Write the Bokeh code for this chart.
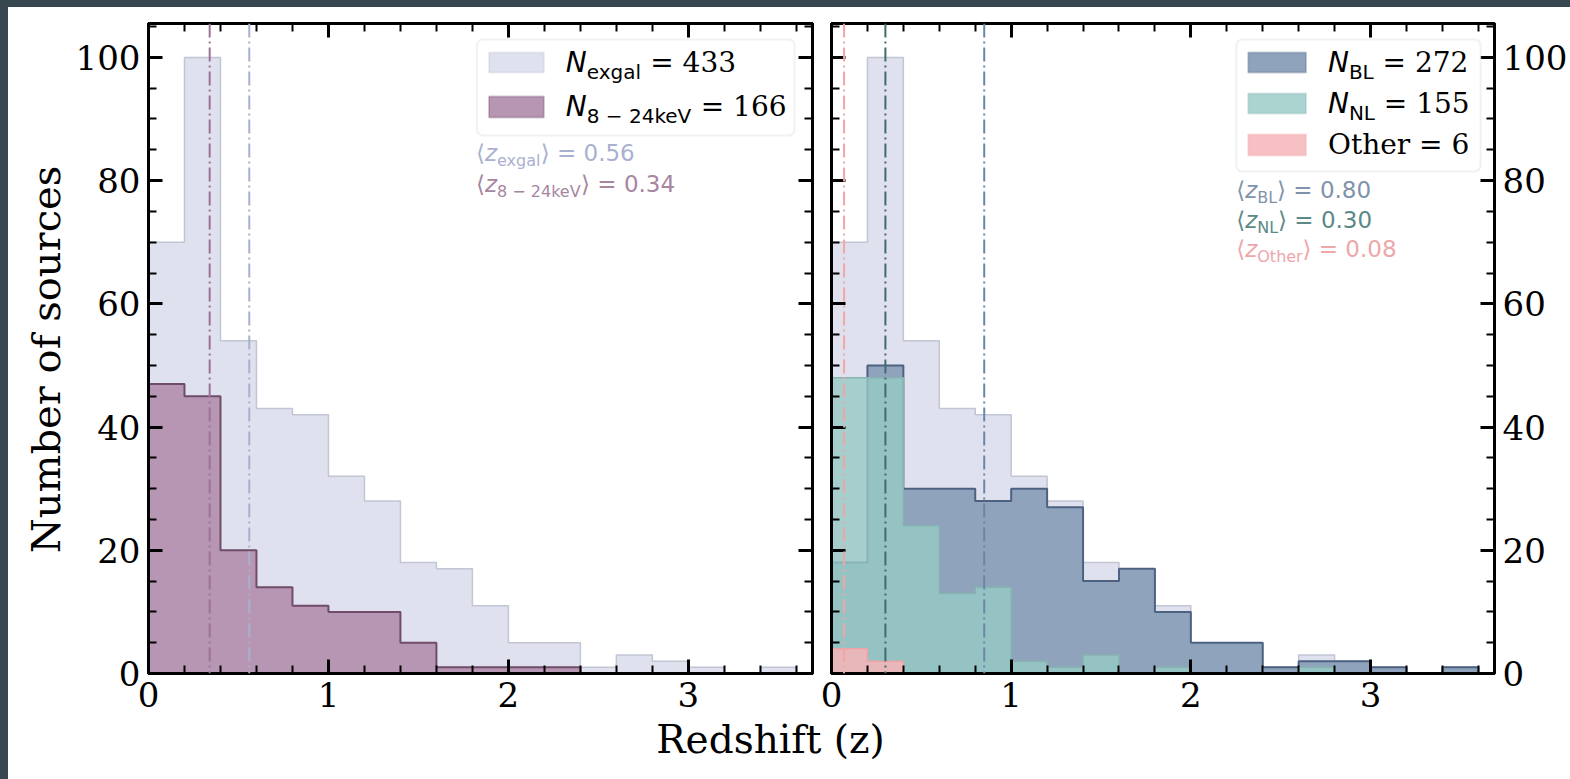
from bokeh.plotting import figure
from bokeh.models import (Range1d, LinearAxis, SingleIntervalTicker, Span, Label,
                          BoxAnnotation, Spacer, CustomJSTickFormatter)
from bokeh.layouts import row, column
from bokeh.embed import file_html
from bokeh.resources import INLINE
import math

# ---------------- data ----------------
BIN_EDGES = [0.0, 0.2, 0.4, 0.6, 0.8, 1.0, 1.2, 1.4, 1.6, 1.8, 2.0,
             2.2, 2.4, 2.6, 2.8, 3.0, 3.2, 3.4, 3.6]
N_EXGAL = [70, 100, 54, 43, 42, 32, 28, 18, 17, 11, 5, 5, 1, 3, 2, 1, 0, 1]
N_HARD  = [47, 45, 20, 14, 11, 10, 10, 5, 1, 1, 1, 1, 0, 0, 0, 0, 0, 0]
N_BL    = [18, 50, 30, 30, 28, 30, 27, 15, 17, 10, 5, 5, 1, 2, 2, 1, 0, 1]
N_NL    = [48, 48, 24, 13, 14, 2, 1, 3, 0, 1, 0, 0, 0, 1, 0, 0, 0, 0]
N_OTHER = [4, 2, 0, 0, 0, 0, 0, 0, 0, 0, 0, 0, 0, 0, 0, 0, 0, 0]

TOTALS = {"exgal": 433, "hard": 166, "BL": 272, "NL": 155, "Other": 6}
MEAN_TEXT = {"exgal": "0.56", "hard": "0.34", "BL": "0.80", "NL": "0.30", "Other": "0.08"}
MEAN_LINE = {"exgal": 0.56, "hard": 0.34, "BL": 0.85, "NL": 0.30, "Other": 0.07}

X_TICK_STEP = 1
Y_TICK_STEP = 20
X_END = 3.69
Y_END = 105.5

# ---------------- style ----------------
DARK = "#37474f"
SERIF = "DejaVu Serif"
SANS = "DejaVu Sans"
EXGAL_FILL, EXGAL_LINE = "#dfe1ee", "#c2c5d3"
HARD_FILL, HARD_LINE = "#b696b3", "#6f4c6a"
BL_FILL, BL_LINE = "#8fa3bd", "#4d6281"
NL_FILL, NL_LINE = "#96c9c4", "#86b4b0"
OTHER_FILL, OTHER_LINE = "#f6b5b7", "#eea3a7"
LINE_COL = {"exgal": "#a7b0cf", "hard": "#9b7295", "BL": "#6b87a8", "NL": "#3f6e6a", "Other": "#f2a5a7"}
TEXT_COL = {"exgal": "#aab0cf", "hard": "#a7869f", "BL": "#7f93ab", "NL": "#5b8a86", "Other": "#eda7a9"}

FRAME_W, FRAME_H = 665, 650
FIG_H = 710
TOP_BAR, LEFT_BAR = 7, 8
FRAME_TOP = TOP_BAR + 16
BASE_FIX = 0.34   # rendered 'alphabetic' sits this many ems lower than asked

LEG_SIZE, LEG_SUB = 28, 20
ANN_SIZE, ANN_SUB = 23, 16

SANS_W = {"N": .748, "e": .615, "x": .592, "g": .635, "a": .613, "l": .278, "k": .579,
          "V": .684, "B": .686, "L": .557, "z": .525, "O": .787, "t": .392, "h": .634,
          "r": .411, " ": .318, "−": .838, "=": .838, ".": .318, "⟨": .390, "⟩": .390}
SERIF_W = {" ": .318, "=": .838, ".": .318, "O": .787, "t": .402, "h": .644, "e": .592, "r": .478}


def text_width(s, font, size):
    table = SANS_W if font == SANS else SERIF_W
    return sum(table.get(ch, .636) for ch in s) * size


def step_polygon(edges, counts):
    xs, ys = [edges[0]], [0]
    for i, c in enumerate(counts):
        xs += [edges[i], edges[i + 1]]
        ys += [c, c]
    xs.append(edges[-1])
    ys.append(0)
    return xs, ys


def make_conv(frame_left):
    def conv(px, py):
        return ((px - frame_left) * X_END / FRAME_W,
                (FRAME_TOP + FRAME_H - py) * Y_END / FRAME_H)
    return conv


def add_axis(p, side, labelled):
    if side in ("below", "above"):
        ticker = SingleIntervalTicker(interval=X_TICK_STEP, num_minor_ticks=5)
    else:
        ticker = SingleIntervalTicker(interval=Y_TICK_STEP, num_minor_ticks=4)
    ax = LinearAxis(ticker=ticker)
    ax.axis_line_width = 3
    ax.axis_line_color = "black"
    ax.major_tick_in = 14
    ax.major_tick_out = 0
    ax.major_tick_line_width = 3
    ax.minor_tick_in = 8
    ax.minor_tick_out = 0
    ax.minor_tick_line_width = 2
    if labelled:
        ax.major_label_text_font = SERIF
        ax.major_label_text_font_size = "34px"
        ax.major_label_text_color = "black"
        ax.major_label_standoff = 8
    else:
        ax.formatter = CustomJSTickFormatter(code="return ''")
        ax.major_label_standoff = 0
        ax.major_label_text_font_size = "1px"
    p.add_layout(ax, side)


def make_panel(width, min_left, min_right, y_labels_side):
    p = figure(width=width, height=FIG_H, x_range=Range1d(0, X_END), y_range=Range1d(0, Y_END),
               output_backend="svg", toolbar_location=None, title=None,
               x_axis_location=None, y_axis_location=None,
               min_border_left=min_left, min_border_right=min_right,
               min_border_top=16, min_border_bottom=FIG_H - 16 - FRAME_H)
    p.grid.visible = False
    p.outline_line_color = "black"
    p.outline_line_width = 3
    p.background_fill_color = "white"
    p.border_fill_color = "white"
    add_axis(p, "below", True)
    add_axis(p, "above", False)
    add_axis(p, "left", y_labels_side == "left")
    add_axis(p, "right", y_labels_side == "right")
    return p


def hist(p, counts, fill, line, alpha=1.0, lw=2.0):
    xs, ys = step_polygon(BIN_EDGES, counts)
    p.patch(xs, ys, fill_color=fill, fill_alpha=alpha, line_color=line, line_width=lw)


def put_text(p, conv, x_px, base_px, pieces):
    for s, font, style, size, drop, color in pieces:
        if s.startswith(" "):
            x_px += text_width(" ", font, size)
            s = s[1:]
        x, y = conv(x_px, base_px + drop - BASE_FIX * size)
        p.add_layout(Label(x=x, y=y, text=s, text_font=font, text_font_style=style,
                           text_font_size=f"{size}px", text_color=color,
                           text_baseline="alphabetic", text_align="left"))
        x_px += text_width(s, font, size)


def legend_box(p, conv, x0, y0, x1, y1):
    l, t = conv(x0, y0)
    r, b = conv(x1, y1)
    p.add_layout(BoxAnnotation(left=l, right=r, top=t, bottom=b, fill_color="white", fill_alpha=0.9,
                               line_color="#d2d2d2", line_width=2, border_radius=6))


def legend_patch(p, conv, x0, y0, x1, y1, fill, line, alpha=1.0):
    l, t = conv(x0, y0)
    r, b = conv(x1, y1)
    p.add_layout(BoxAnnotation(left=l, right=r, top=t, bottom=b, fill_color=fill, fill_alpha=alpha,
                               line_color=line, line_width=2))


def vline(p, key):
    p.add_layout(Span(location=MEAN_LINE[key], dimension="height", line_color=LINE_COL[key],
                      line_width=2, line_dash="14 4 2 4"))


def legend_row(p, conv, x_px, base_px, sub, key):
    put_text(p, conv, x_px, base_px, [("N", SANS, "italic", LEG_SIZE, 0, "black"),
                                      (sub, SANS, "normal", LEG_SUB, 6, "black"),
                                      (f" = {TOTALS[key]}", SERIF, "normal", LEG_SIZE, 0, "black")])


def mean_text(p, conv, x_px, base_px, sub, key):
    c = TEXT_COL[key]
    put_text(p, conv, x_px, base_px, [
        ("⟨", SANS, "normal", ANN_SIZE, 0, c),
        ("z", SANS, "italic", ANN_SIZE, 0, c),
        (sub, SANS, "normal", ANN_SUB, 5, c),
        ("⟩", SANS, "normal", ANN_SIZE, 0, c),
        (" = " + MEAN_TEXT[key], SANS, "normal", ANN_SIZE, 0, c),
    ])


# ---------------- left panel ----------------
YLAB_W = 64
P1_W = 748
P2_W = 750
p1 = make_panel(P1_W, 75, P1_W - 75 - FRAME_W, "left")
hist(p1, N_EXGAL, EXGAL_FILL, EXGAL_LINE, 1.0, 1.5)
hist(p1, N_HARD, HARD_FILL, HARD_LINE, 1.0, 2.0)
vline(p1, "hard")
vline(p1, "exgal")
c1 = make_conv(LEFT_BAR + YLAB_W + 75)

legend_box(p1, c1, 476, 39, 794, 135)
legend_patch(p1, c1, 488, 52, 543, 72, EXGAL_FILL, EXGAL_LINE)
legend_patch(p1, c1, 488, 96, 543, 117, HARD_FILL, HARD_LINE)
legend_row(p1, c1, 565, 72, "exgal", "exgal")
legend_row(p1, c1, 565, 116, "8 − 24keV", "hard")
mean_text(p1, c1, 475, 160, "exgal", "exgal")
mean_text(p1, c1, 475, 191, "8 − 24keV", "hard")

# ---------------- right panel ----------------
p2 = make_panel(P2_W, 11, P2_W - 11 - FRAME_W, "right")
hist(p2, N_EXGAL, EXGAL_FILL, EXGAL_LINE, 1.0, 1.5)
hist(p2, N_BL, BL_FILL, BL_LINE, 1.0, 2.0)
hist(p2, N_NL, NL_FILL, NL_LINE, 0.8, 1.5)
hist(p2, N_OTHER, OTHER_FILL, OTHER_LINE, 0.85, 1.5)
vline(p2, "Other")
vline(p2, "NL")
vline(p2, "BL")
c2 = make_conv(LEFT_BAR + YLAB_W + P1_W + 11)

legend_box(p2, c2, 1237, 39, 1482, 171)
legend_patch(p2, c2, 1249, 52, 1307, 72, BL_FILL, BL_LINE)
legend_patch(p2, c2, 1249, 93, 1307, 113, NL_FILL, NL_LINE, 0.8)
legend_patch(p2, c2, 1249, 134, 1307, 155, OTHER_FILL, OTHER_LINE, 0.85)
legend_row(p2, c2, 1329, 72, "BL", "BL")
legend_row(p2, c2, 1329, 113, "NL", "NL")
put_text(p2, c2, 1329, 154, [(f"Other = {TOTALS['Other']}", SERIF, "normal", LEG_SIZE, 0, "black")])
mean_text(p2, c2, 1237, 197, "BL", "BL")
mean_text(p2, c2, 1237, 227, "NL", "NL")
mean_text(p2, c2, 1237, 256, "Other", "Other")

# ---------------- shared axis labels ----------------
ylab = figure(width=YLAB_W, height=FIG_H, x_range=Range1d(0, YLAB_W), y_range=Range1d(0, FIG_H),
              output_backend="svg", toolbar_location=None, title=None,
              x_axis_location=None, y_axis_location=None, min_border=0, outline_line_color=None)
ylab.grid.visible = False
ylab.add_layout(Label(x=45 - LEFT_BAR, y=FIG_H - (374 - TOP_BAR), text="Number of sources",
                      angle=math.pi / 2, text_align="center", text_baseline="middle",
                      text_font=SERIF, text_font_size="40px", text_color="black"))

BOT_H = 779 - TOP_BAR - FIG_H
BOT_W = 1570 - LEFT_BAR
xlab = figure(width=BOT_W, height=BOT_H, x_range=Range1d(0, BOT_W), y_range=Range1d(0, BOT_H),
              output_backend="svg", toolbar_location=None, title=None,
              x_axis_location=None, y_axis_location=None, min_border=0, outline_line_color=None)
xlab.grid.visible = False
xlab.add_layout(Label(x=770 - LEFT_BAR, y=BOT_H - (752 - 13 - TOP_BAR - FIG_H), text="Redshift (z)",
                      text_align="center", text_baseline="alphabetic",
                      text_font=SERIF, text_font_size="39px", text_color="black"))

top_bar = Spacer(width=1570, height=TOP_BAR, styles={"background-color": DARK})
left_bar = Spacer(width=LEFT_BAR, height=779 - TOP_BAR, styles={"background-color": DARK})
page = column(top_bar, row(left_bar, column(row(ylab, p1, p2), xlab)))

open("out.html", "w").write(file_html(page, INLINE))
